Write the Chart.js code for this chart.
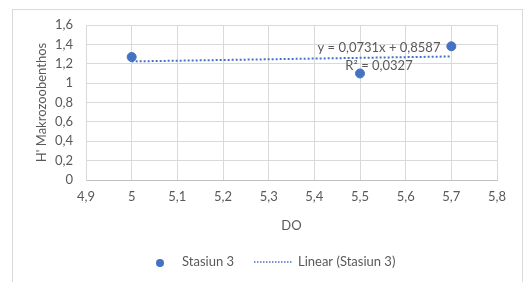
<!DOCTYPE html>
<html>
<head>
<meta charset="utf-8">
<script src="https://cdn.jsdelivr.net/npm/chart.js@4"></script>
<style>
html,body{margin:0;padding:0;background:#fff;}
#wrap{width:530px;height:282px;position:relative;}
</style>
</head>
<body>
<div id="wrap"><canvas id="c" width="530" height="282"></canvas></div>
<script>
// ---- data ----
const doValues = [5, 5.5, 5.7];
const stasiun3 = [1.27, 1.10, 1.38];
const trendX = [5, 5.7];
const trendY = [1.2242, 1.2754];
const seriesLabels = ['Stasiun 3', 'Linear (Stasiun 3)'];
const equationLines = ['y = 0,0731x + 0,8587', 'R² = 0,0327'];
const xTitle = 'DO';
const yTitle = "H' Makrozoobenthos";

const FONT = 'Lato, "Liberation Sans", sans-serif';
const FS = 13;
const TXT = '#595959';
const BLUE = '#4472C4';

function fmt(v){
  return String(Number(v.toFixed(1))).replace('.', ',');
}

const deco = {
  id: 'deco',
  beforeDraw(chart){
    const ctx = chart.ctx;
    ctx.save();
    ctx.strokeStyle = '#d9d9d9';
    ctx.lineWidth = 1;
    ctx.strokeRect(12.5, 9.5, 510, 300);
    ctx.restore();
  },
  afterDraw(chart){
    const ctx = chart.ctx;
    ctx.save();
    ctx.font = FS + 'px ' + FONT;
    ctx.fillStyle = TXT;
    ctx.textAlign = 'center';
    ctx.textBaseline = 'middle';
    ctx.fillText(equationLines[0], 379, 48);
    ctx.fillText(equationLines[1], 379, 66);
    // legend
    const ly = 262;
    ctx.fillStyle = BLUE;
    ctx.beginPath();
    ctx.arc(160, ly + 1, 4, 0, Math.PI * 2);
    ctx.fill();
    ctx.fillStyle = TXT;
    ctx.textAlign = 'left';
    ctx.fillText(seriesLabels[0], 182, ly);
    ctx.strokeStyle = BLUE;
    ctx.lineWidth = 1.5;
    ctx.setLineDash([1.5, 1.5]);
    ctx.beginPath();
    ctx.moveTo(254, ly);
    ctx.lineTo(293, ly);
    ctx.stroke();
    ctx.setLineDash([]);
    ctx.fillText(seriesLabels[1], 298, ly);
    ctx.restore();
  }
};

new Chart(document.getElementById('c'), {
  type: 'scatter',
  data: {
    datasets: [
      {
        label: seriesLabels[1],
        type: 'line',
        data: trendX.map((x, i) => ({x, y: trendY[i]})),
        borderColor: BLUE,
        borderWidth: 2,
        borderDash: [2, 2],
        pointRadius: 0,
        fill: false,
        order: 2
      },
      {
        label: seriesLabels[0],
        data: doValues.map((x, i) => ({x, y: stasiun3[i]})),
        backgroundColor: BLUE,
        borderColor: BLUE,
        pointRadius: 4.5,
        pointHoverRadius: 4.5,
        order: 1
      }
    ]
  },
  options: {
    responsive: false,
    animation: false,
    events: [],
    layout: { padding: { left: 0, right: 33, top: 25, bottom: 0 } },
    plugins: { legend: { display: false }, tooltip: { enabled: false } },
    scales: {
      x: {
        type: 'linear',
        min: 4.9, max: 5.8,
        ticks: { stepSize: 0.1, color: TXT, font: { family: FONT, size: FS }, padding: 9, callback: v => fmt(v) },
        grid: { color: '#d9d9d9', drawTicks: false },
        border: { color: '#bfbfbf' },
        title: { display: true, text: xTitle, color: TXT, font: { family: FONT, size: FS }, padding: { top: 0, bottom: 48 } },
        afterFit(s){ s.height = 102; }
      },
      y: {
        min: 0, max: 1.6,
        ticks: { stepSize: 0.2, color: TXT, font: { family: FONT, size: FS }, padding: 13, callback: v => fmt(v) },
        grid: { color: '#d9d9d9', drawTicks: false },
        border: { color: '#d9d9d9' },
        title: { display: true, text: yTitle, color: TXT, font: { family: FONT, size: FS }, padding: { top: 34, bottom: 0 } },
        afterFit(s){ s.width = 86; }
      }
    }
  },
  plugins: [deco]
});
</script>
</body>
</html>
